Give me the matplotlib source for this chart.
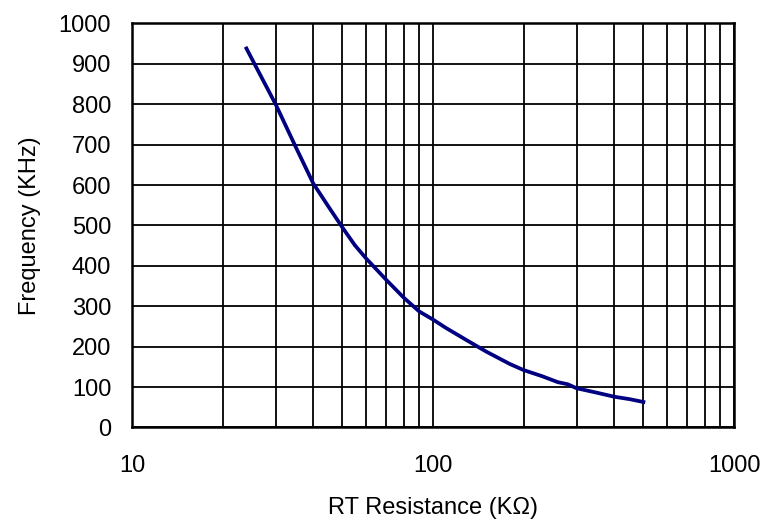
import matplotlib
matplotlib.use("Agg")
import matplotlib.pyplot as plt
from matplotlib.ticker import FixedLocator, NullFormatter

plt.rcParams["font.family"] = ["Liberation Sans", "DejaVu Sans"]

# RT resistance (kOhm) vs switching frequency (kHz)
rt_kohm = [24, 27, 30, 35, 40, 45, 50, 55, 60, 70, 80, 90, 100, 110, 130,
           150, 180, 200, 230, 260, 280, 300, 350, 400, 450, 500]
freq_khz = [938, 865, 800, 694, 604, 546, 495, 451, 418, 365, 321, 287, 267,
            247, 215, 188, 157, 142, 127, 112, 107, 97, 86, 76, 70, 63]

x_major = [10, 100, 1000]
x_minor = [20, 30, 40, 50, 60, 70, 80, 90, 200, 300, 400, 500, 600, 700, 800, 900]
y_ticks = list(range(0, 1001, 100))

fig = plt.figure(figsize=(7.63, 5.20), dpi=100)
ax = fig.add_axes([0.173, 0.178, 0.789, 0.777])

ax.plot(rt_kohm, freq_khz, color="#000080", linewidth=2.7, zorder=3)

ax.set_xscale("log")
ax.set_xlim(10, 1000)
ax.set_ylim(0, 1000)
ax.xaxis.set_major_locator(FixedLocator(x_major))
ax.xaxis.set_minor_locator(FixedLocator(x_minor))
ax.xaxis.set_minor_formatter(NullFormatter())
ax.set_xticklabels([str(v) for v in x_major])
ax.set_yticks(y_ticks)

ax.grid(True, which="both", axis="x", color="black", linewidth=1.3)
ax.grid(True, which="major", axis="y", color="black", linewidth=1.3)

ax.tick_params(axis="x", which="both", length=0, pad=20, labelsize=17)
ax.tick_params(axis="y", which="both", length=0, pad=15, labelsize=17)

for spine in ax.spines.values():
    spine.set_linewidth(1.8)
    spine.set_color("black")

ax.set_xlabel("RT Resistance (KΩ)", fontsize=17, labelpad=14)
ax.set_ylabel("Frequency (KHz)", fontsize=17, labelpad=13)

fig.savefig("out.png", dpi=100)
